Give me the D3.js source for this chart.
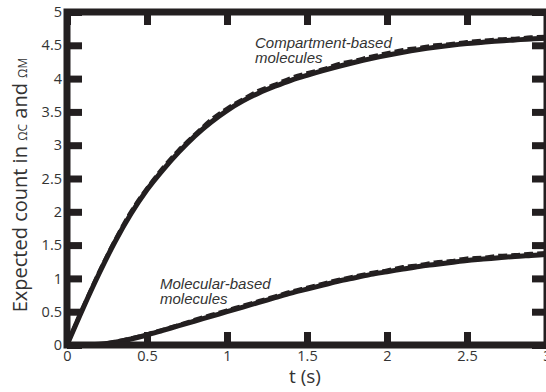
<!DOCTYPE html>
<html>
<head>
<meta charset="utf-8">
<script src="https://cdn.jsdelivr.net/npm/d3@7"></script>
<style>
  body { margin: 0; background: #fff; }
  svg { display: block; }
  .note { font-family: "Liberation Sans", Arial, sans-serif; font-style: italic; font-size: 15px; fill: #333; }
</style>
</head>
<body>
<div id="chart"></div>
<script>
var svgWidth = 546;
var svgHeight = 392;

// x positions of the samples (s)
var times = [0, 0.1, 0.2, 0.3, 0.4, 0.5, 0.6, 0.7, 0.8, 0.9, 1.0,
  1.1, 1.2, 1.3, 1.4, 1.5, 1.6, 1.7, 1.8, 1.9, 2.0,
  2.1, 2.2, 2.3, 2.4, 2.5, 2.6, 2.7, 2.8, 2.9, 3.0];

// compartment-based molecules, model (solid) and simulation (dashed)
var compModel = [0, 0.55, 1.07, 1.55, 1.97, 2.33, 2.63, 2.90, 3.14, 3.345, 3.52,
  3.665, 3.785, 3.885, 3.975, 4.05, 4.12, 4.185, 4.245, 4.30, 4.35,
  4.395, 4.435, 4.47, 4.50, 4.525, 4.545, 4.565, 4.58, 4.595, 4.605];
var compSim = [0, 0.56, 1.09, 1.57, 2.00, 2.35, 2.66, 2.93, 3.16, 3.38, 3.55,
  3.69, 3.82, 3.91, 4.01, 4.08, 4.14, 4.22, 4.27, 4.33, 4.38,
  4.43, 4.46, 4.50, 4.52, 4.55, 4.57, 4.59, 4.60, 4.62, 4.63];

// molecular-based molecules, model (solid) and simulation (dashed)
var molModel = [0, 0.0, 0.01, 0.04, 0.09, 0.15, 0.22, 0.29, 0.36, 0.43, 0.50,
  0.57, 0.64, 0.71, 0.78, 0.84, 0.90, 0.96, 1.01, 1.06, 1.10,
  1.14, 1.18, 1.21, 1.24, 1.27, 1.29, 1.31, 1.33, 1.345, 1.36];
var molSim = [0, 0.0, 0.01, 0.05, 0.10, 0.16, 0.23, 0.30, 0.38, 0.45, 0.52,
  0.59, 0.66, 0.73, 0.80, 0.86, 0.92, 0.98, 1.03, 1.08, 1.12,
  1.17, 1.20, 1.24, 1.26, 1.30, 1.31, 1.34, 1.35, 1.37, 1.38];

var xTicks = [0, 0.5, 1, 1.5, 2, 2.5, 3];
var yTicks = [0, 0.5, 1, 1.5, 2, 2.5, 3, 3.5, 4, 4.5, 5];

var svg = d3.select("#chart")
  .append("svg")
  .attr("width", svgWidth)
  .attr("height", svgHeight);

var x = d3.scaleLinear().domain([0, 3]).range([67, 547]);
var y = d3.scaleLinear().domain([0, 5]).range([345, 12]);

// curves
var line = d3.line()
  .x(d => x(d[0]))
  .y(d => y(d[1]))
  .curve(d3.curveMonotoneX);

function pairs(vals) {
  return times.map((t, i) => [t, vals[i]]);
}

[compModel, molModel].forEach(function(vals) {
  svg.append("path")
    .attr("d", line(pairs(vals)))
    .attr("fill", "none")
    .attr("stroke", "#231f20")
    .attr("stroke-width", 5);
});
[compSim, molSim].forEach(function(vals) {
  svg.append("path")
    .attr("d", line(pairs(vals)))
    .attr("fill", "none")
    .attr("stroke", "#231f20")
    .attr("stroke-width", 4)
    .attr("stroke-dasharray", "9,4");
});

// axes, ticks pointing inwards on all four sides
var fmt = d3.format("~g");
function styleAxis(g) {
  g.select(".domain").remove();
  g.selectAll(".tick line")
    .attr("stroke", "#231f20")
    .attr("stroke-width", 7);
  g.selectAll(".tick text")
    .attr("font-family", "'Open Sans', sans-serif")
    .attr("font-size", 14.5)
    .attr("fill", "#333");
}

svg.append("g")
  .attr("transform", "translate(0,345)")
  .call(d3.axisBottom(x).tickValues(xTicks).tickFormat(fmt).tickSize(-13).tickPadding(6))
  .call(styleAxis);
svg.append("g")
  .attr("transform", "translate(0,12)")
  .call(d3.axisTop(x).tickValues(xTicks).tickFormat("").tickSize(-13))
  .call(styleAxis);
svg.append("g")
  .attr("transform", "translate(67,0)")
  .call(d3.axisLeft(y).tickValues(yTicks).tickFormat(fmt).tickSize(-15).tickPadding(5))
  .call(styleAxis);
svg.append("g")
  .attr("transform", "translate(547,0)")
  .call(d3.axisRight(y).tickValues(yTicks).tickFormat("").tickSize(-15))
  .call(styleAxis);

// frame
svg.append("rect")
  .attr("x", x(0))
  .attr("y", y(5))
  .attr("width", x(3) - x(0))
  .attr("height", y(0) - y(5))
  .attr("fill", "none")
  .attr("stroke", "#231f20")
  .attr("stroke-width", 7);

// axis titles
svg.append("text")
  .attr("x", 305)
  .attr("y", 383)
  .attr("text-anchor", "middle")
  .style("font-family", "'Open Sans', sans-serif")
  .style("font-size", "19px")
  .style("fill", "#333")
  .text("t  (s)");

var ylab = svg.append("text")
  .attr("transform", "translate(27,185) rotate(-90)")
  .attr("text-anchor", "middle")
  .style("font-family", "'Open Sans', sans-serif")
  .style("font-size", "20px")
  .style("fill", "#333");
ylab.append("tspan").text("Expected count in ");
ylab.append("tspan").style("font-size", "12px").text("ΩC");
ylab.append("tspan").text(" and ");
ylab.append("tspan").style("font-size", "12px").text("ΩM");

// curve annotations
var n1 = svg.append("text").attr("class", "note");
n1.append("tspan").attr("x", 255).attr("y", 48).text("Compartment-based");
n1.append("tspan").attr("x", 255).attr("y", 63).text("molecules");

var n2 = svg.append("text").attr("class", "note");
n2.append("tspan").attr("x", 160).attr("y", 289).text("Molecular-based");
n2.append("tspan").attr("x", 160).attr("y", 304).text("molecules");
</script>
</body>
</html>
